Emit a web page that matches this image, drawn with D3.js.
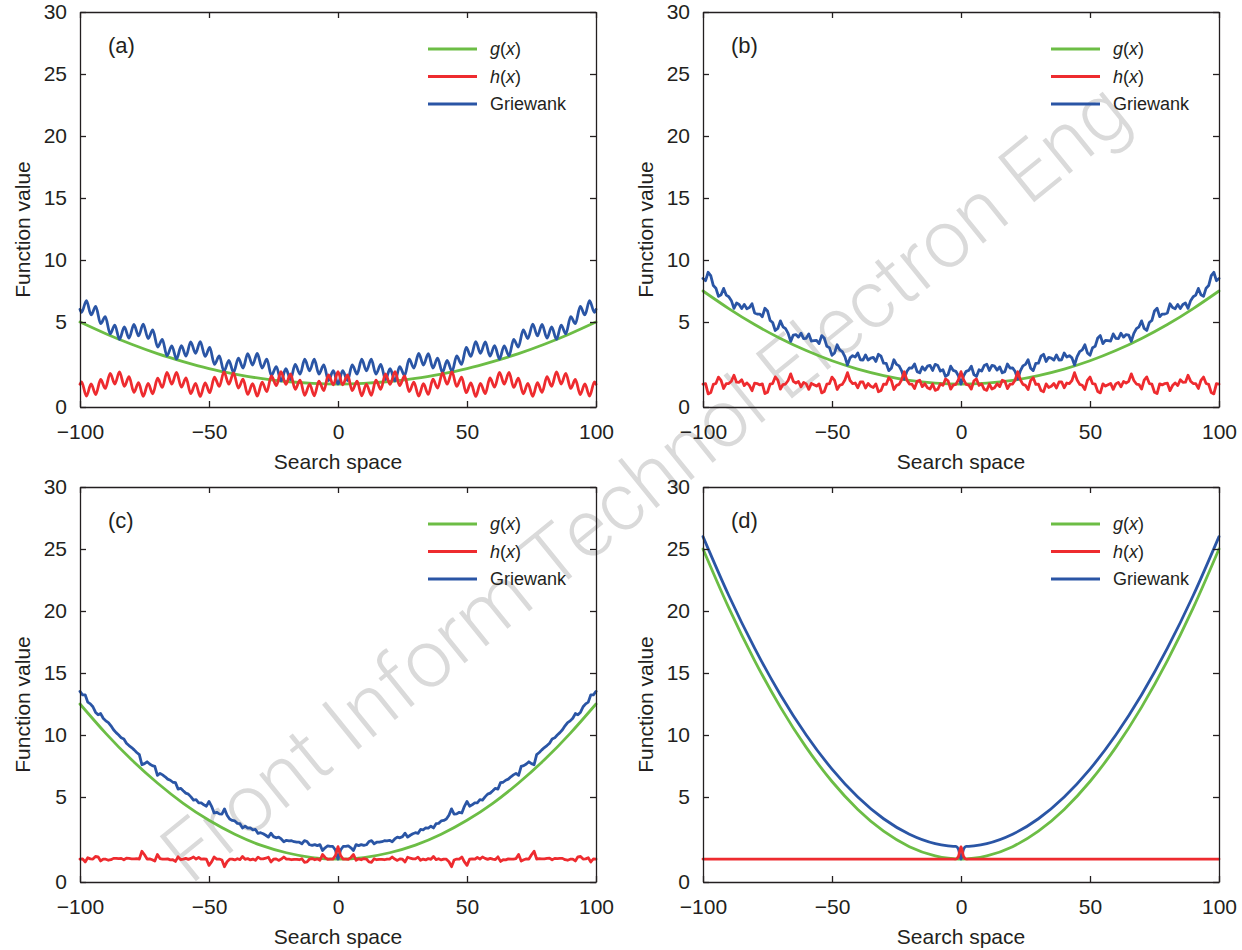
<!DOCTYPE html>
<html>
<head>
<meta charset="utf-8">
<script src="https://cdn.jsdelivr.net/npm/d3@7"></script>
<style>
  body { margin: 0; background: #fff; }
  svg { display: block; }
</style>
</head>
<body>
<svg width="1242" height="950"></svg>
<script>
// sample positions
const gridX = d3.range(-100, 101);       // panels (b) and (c), one per unit
const gridX10 = d3.range(-100, 101, 10); // g(x) in (a), (b), (c)
// panel (a): turning points of the fast wiggle
const aX = [-100, -99.4, -97.5, -95.7, -93.9, -92.0, -90.2, -88.3, -86.5, -84.7, -82.8, -81.0, -79.1, -77.3,
  -75.5, -73.6, -71.8, -69.9, -68.1, -66.3, -64.4, -62.6, -60.7, -58.9, -57.1, -55.2, -53.4, -51.5, -49.7,
  -47.9, -46.0, -44.2, -42.3, -40.5, -38.6, -36.8, -35.0, -33.1, -31.3, -29.4, -27.6, -25.8, -23.9, -22.1,
  -20.2, -18.4, -16.6, -14.7, -12.9, -11.0, -9.2, -7.4, -5.5, -3.7, -1.8, 0, 1.8, 3.7, 5.5, 7.4, 9.2, 11.0,
  12.9, 14.7, 16.6, 18.4, 20.2, 22.1, 23.9, 25.8, 27.6, 29.4, 31.3, 33.1, 35.0, 36.8, 38.6, 40.5, 42.3, 44.2,
  46.0, 47.9, 49.7, 51.5, 53.4, 55.2, 57.1, 58.9, 60.7, 62.6, 64.4, 66.3, 68.1, 69.9, 71.8, 73.6, 75.5, 77.3,
  79.1, 81.0, 82.8, 84.7, 86.5, 88.3, 90.2, 92.0, 93.9, 95.7, 97.5, 99.4, 100];
// panel (d)
const dX = [-100, -90, -80, -70, -60, -50, -40, -30, -20, -10, -5, -3, -2, -1, 0,
  1, 2, 3, 5, 10, 20, 30, 40, 50, 60, 70, 80, 90, 100];

// (a)
const aG = [5.00, 4.31, 3.69, 3.14, 2.67, 2.26, 1.94, 1.68, 1.50, 1.39, 1.35, 1.39, 1.50, 1.68, 1.94, 2.26, 2.67, 3.14, 3.69, 4.31, 5.00];
const aH = [1.34, 1.48, 0.64, 1.36, 0.73, 1.62, 1.09, 1.98, 1.35, 2.06, 1.22, 1.78, 0.86, 1.43, 0.63, 1.39, 0.78,
  1.69, 1.15, 2.03, 1.35, 2.04, 1.17, 1.71, 0.79, 1.39, 0.62, 1.42, 0.84, 1.76, 1.21, 2.06, 1.35, 2.00, 1.11,
  1.64, 0.74, 1.37, 0.64, 1.46, 0.90, 1.83, 1.26, 2.08, 1.33, 1.95, 1.04, 1.58, 0.69, 1.35, 0.66, 1.52, 0.97,
  1.89, 1.30, 2.08, 1.30, 1.89, 0.97, 1.52, 0.66, 1.35, 0.69, 1.58, 1.04, 1.95, 1.33, 2.08, 1.26, 1.83, 0.90,
  1.46, 0.64, 1.37, 0.74, 1.64, 1.11, 2.00, 1.35, 2.06, 1.21, 1.76, 0.84, 1.42, 0.62, 1.39, 0.79, 1.71, 1.17,
  2.04, 1.35, 2.03, 1.15, 1.69, 0.78, 1.39, 0.63, 1.43, 0.86, 1.78, 1.22, 2.06, 1.35, 1.98, 1.09, 1.62, 0.73,
  1.36, 0.64, 1.48, 1.34];
const aF = [6.02, 5.77, 6.73, 5.57, 6.26, 4.90, 5.43, 4.30, 4.82, 3.98, 4.71, 4.05, 4.86, 4.18, 4.88, 4.03, 4.53,
  3.53, 3.98, 3.01, 3.60, 2.82, 3.61, 2.99, 3.83, 3.16, 3.85, 2.98, 3.50, 2.51, 3.00, 2.09, 2.74, 2.03, 2.87,
  2.29, 3.14, 2.47, 3.15, 2.29, 2.81, 1.85, 2.38, 1.53, 2.25, 1.61, 2.50, 1.93, 2.81, 2.13, 2.81, 1.94, 2.48,
  1.55, 2.14, 1.35, 2.14, 1.55, 2.48, 1.94, 2.81, 2.13, 2.81, 1.93, 2.50, 1.61, 2.25, 1.53, 2.38, 1.85, 2.81,
  2.29, 3.15, 2.47, 3.14, 2.29, 2.87, 2.03, 2.74, 2.09, 3.00, 2.51, 3.50, 2.98, 3.85, 3.16, 3.83, 2.99, 3.61,
  2.82, 3.60, 3.01, 3.98, 3.53, 4.53, 4.03, 4.88, 4.18, 4.86, 4.05, 4.71, 3.98, 4.82, 4.30, 5.43, 4.90, 6.26,
  5.57, 6.73, 5.77, 6.02];

// (b)
const bG = [7.50, 6.08, 4.85, 4.03, 3.32, 2.72, 2.23, 1.85, 1.57, 1.41, 1.35, 1.41, 1.57, 1.85, 2.23, 2.72, 3.32, 4.03, 4.85, 6.08, 7.50];
const bH = [1.35,
  1.37, 0.77, 0.85, 1.33, 1.38, 1.76, 1.57, 1.09, 1.38, 1.38,
  1.52, 1.87, 1.46, 1.45, 1.60, 1.26, 1.42, 1.26, 0.96, 1.40,
  1.38, 1.30, 1.36, 0.79, 0.87, 1.34, 1.38, 1.77, 1.58, 1.05,
  1.32, 1.35, 1.56, 1.95, 1.51, 1.41, 1.50, 1.19, 1.45, 1.36,
  1.04, 1.39, 1.31, 1.23, 1.36, 0.83, 0.91, 1.34, 1.37, 1.76,
  1.57, 1.03, 1.28, 1.33, 1.59, 2.02, 1.56, 1.38, 1.41, 1.13,
  1.48, 1.47, 1.12, 1.38, 1.22, 1.15, 1.36, 0.90, 0.97, 1.35,
  1.33, 1.72, 1.56, 1.03, 1.27, 1.33, 1.60, 2.07, 1.59, 1.35,
  1.34, 1.08, 1.51, 1.57, 1.20, 1.37, 1.13, 1.06, 1.35, 0.98,
  1.04, 1.36, 1.27, 1.65, 1.54, 1.05, 1.29, 1.33, 1.60,
  2.08,
  1.60, 1.33, 1.29, 1.05, 1.54, 1.65, 1.27, 1.36, 1.04,
  0.98, 1.35, 1.06, 1.13, 1.37, 1.20, 1.57, 1.51, 1.08, 1.34,
  1.35, 1.59, 2.07, 1.60, 1.33, 1.27, 1.03, 1.56, 1.72, 1.33,
  1.35, 0.97, 0.90, 1.36, 1.15, 1.22, 1.38, 1.12, 1.47, 1.48,
  1.13, 1.41, 1.38, 1.56, 2.02, 1.59, 1.33, 1.28, 1.03, 1.57,
  1.76, 1.37, 1.34, 0.91, 0.83, 1.36, 1.23, 1.31, 1.39, 1.04,
  1.36, 1.45, 1.19, 1.50, 1.41, 1.51, 1.95, 1.56, 1.35, 1.32,
  1.05, 1.58, 1.77, 1.38, 1.34, 0.87, 0.79, 1.36, 1.30, 1.38,
  1.40, 0.96, 1.26, 1.42, 1.26, 1.60, 1.45, 1.46, 1.87, 1.52,
  1.38, 1.38, 1.09, 1.57, 1.76, 1.38, 1.33, 0.85, 0.77, 1.37,
  1.35];
const bF = [8.51,
  8.33, 9.01, 8.74, 7.94, 7.73, 7.07, 7.19, 7.71, 7.17, 7.04,
  6.72, 6.10, 6.53, 6.41, 6.08, 6.42, 6.07, 6.17, 6.47, 5.73,
  5.64, 5.64, 5.43, 6.11, 5.89, 5.13, 4.97, 4.50, 4.62, 5.09,
  4.72, 4.61, 4.33, 3.86, 4.23, 4.26, 4.11, 4.34, 4.02, 4.04,
  4.30, 3.88, 3.90, 3.92, 3.73, 4.20, 4.06, 3.57, 3.49, 3.04,
  3.18, 3.66, 3.36, 3.26, 2.96, 2.47, 2.89, 3.02, 2.94, 3.18,
  2.78, 2.76, 3.06, 2.76, 2.88, 2.92, 2.68, 3.10, 2.99, 2.58,
  2.57, 2.14, 2.28, 2.78, 2.51, 2.42, 2.12, 1.63, 2.09, 2.30,
  2.29, 2.53, 2.08, 2.01, 2.36, 2.17, 2.40, 2.45, 2.15, 2.51,
  2.44, 2.11, 2.19, 1.80, 1.91, 2.40, 2.15, 2.10, 1.83,
  1.35,
  1.83, 2.10, 2.15, 2.40, 1.91, 1.80, 2.19, 2.11, 2.44,
  2.51, 2.15, 2.45, 2.40, 2.17, 2.36, 2.01, 2.08, 2.53, 2.29,
  2.30, 2.09, 1.63, 2.12, 2.42, 2.51, 2.78, 2.28, 2.14, 2.57,
  2.58, 2.99, 3.10, 2.68, 2.92, 2.88, 2.76, 3.06, 2.76, 2.78,
  3.18, 2.94, 3.02, 2.89, 2.47, 2.96, 3.26, 3.36, 3.66, 3.18,
  3.04, 3.49, 3.57, 4.06, 4.20, 3.73, 3.92, 3.90, 3.88, 4.30,
  4.04, 4.02, 4.34, 4.11, 4.26, 4.23, 3.86, 4.33, 4.61, 4.72,
  5.09, 4.62, 4.50, 4.97, 5.13, 5.89, 6.11, 5.43, 5.64, 5.64,
  5.73, 6.47, 6.17, 6.07, 6.42, 6.08, 6.41, 6.53, 6.10, 6.72,
  7.04, 7.17, 7.71, 7.19, 7.07, 7.73, 7.94, 8.74, 9.01, 8.33,
  8.51];

// (c)
const cG = [12.50, 10.13, 8.00, 6.13, 4.63, 3.63, 2.81, 2.17, 1.72, 1.44, 1.35, 1.44, 1.72, 2.17, 2.81, 3.63, 4.63, 6.13, 8.00, 10.13, 12.50];
const cH = [1.35,
  1.36, 1.18, 1.43, 1.36, 1.35, 1.50, 1.48, 1.24, 1.35, 1.34,
  1.28, 1.31, 1.39, 1.39, 1.37, 1.39, 1.31, 1.40, 1.39, 1.36,
  1.36, 1.37, 1.35, 1.81, 1.60, 1.35, 1.36, 1.31, 1.23, 1.62,
  1.38, 1.35, 1.34, 1.36, 1.30, 1.31, 1.21, 1.48, 1.32, 1.35,
  1.39, 1.33, 1.39, 1.47, 1.35, 1.44, 1.34, 1.36, 1.34, 0.98,
  1.18, 1.47, 1.35, 1.35, 1.29, 0.90, 1.19, 1.34, 1.35, 1.30,
  1.37, 1.32, 1.50, 1.33, 1.38, 1.30, 1.35, 1.28, 1.46, 1.36,
  1.36, 1.40, 1.46, 1.18, 1.34, 1.36, 1.27, 1.35, 1.47, 1.35,
  1.35, 1.31, 1.33, 1.33, 1.31, 1.37, 1.16, 1.18, 1.35, 1.38,
  1.31, 1.36, 1.28, 1.62, 1.44, 1.33, 1.35, 1.35, 1.55,
  2.08,
  1.55, 1.35, 1.35, 1.33, 1.44, 1.62, 1.28, 1.36, 1.31,
  1.38, 1.35, 1.18, 1.16, 1.37, 1.31, 1.33, 1.33, 1.31, 1.35,
  1.35, 1.47, 1.35, 1.27, 1.36, 1.34, 1.18, 1.46, 1.40, 1.36,
  1.36, 1.46, 1.28, 1.35, 1.30, 1.38, 1.33, 1.50, 1.32, 1.37,
  1.30, 1.35, 1.34, 1.19, 0.90, 1.29, 1.35, 1.35, 1.47, 1.18,
  0.98, 1.34, 1.36, 1.34, 1.44, 1.35, 1.47, 1.39, 1.33, 1.39,
  1.35, 1.32, 1.48, 1.21, 1.31, 1.30, 1.36, 1.34, 1.35, 1.38,
  1.62, 1.23, 1.31, 1.36, 1.35, 1.60, 1.81, 1.35, 1.37, 1.36,
  1.36, 1.39, 1.40, 1.31, 1.39, 1.37, 1.39, 1.39, 1.31, 1.28,
  1.34, 1.35, 1.24, 1.48, 1.50, 1.35, 1.36, 1.43, 1.18, 1.36,
  1.35];
const cF = [13.51,
  13.24, 13.24, 12.65, 12.51, 12.28, 11.84, 11.63, 11.73, 11.35, 11.14,
  11.00, 10.74, 10.42, 10.19, 10.00, 9.77, 9.67, 9.34, 9.15, 8.99,
  8.80, 8.59, 8.42, 7.60, 7.69, 7.84, 7.66, 7.53, 7.47, 6.75,
  6.91, 6.78, 6.63, 6.44, 6.35, 6.19, 6.16, 5.64, 5.70, 5.50,
  5.31, 5.23, 5.01, 4.82, 4.84, 4.66, 4.65, 4.54, 4.46, 4.74,
  4.45, 4.06, 4.10, 4.01, 3.99, 4.30, 3.93, 3.70, 3.62, 3.59,
  3.45, 3.43, 3.18, 3.28, 3.17, 3.18, 3.07, 3.09, 2.86, 2.90,
  2.84, 2.75, 2.64, 2.87, 2.67, 2.60, 2.64, 2.53, 2.37, 2.45,
  2.42, 2.43, 2.37, 2.34, 2.34, 2.25, 2.43, 2.38, 2.19, 2.15,
  2.20, 2.14, 2.20, 1.85, 2.01, 2.12, 2.09, 2.09, 1.88,
  1.35,
  1.88, 2.09, 2.09, 2.12, 2.01, 1.85, 2.20, 2.14, 2.20,
  2.15, 2.19, 2.38, 2.43, 2.25, 2.34, 2.34, 2.37, 2.43, 2.42,
  2.45, 2.37, 2.53, 2.64, 2.60, 2.67, 2.87, 2.64, 2.75, 2.84,
  2.90, 2.86, 3.09, 3.07, 3.18, 3.17, 3.28, 3.18, 3.43, 3.45,
  3.59, 3.62, 3.70, 3.93, 4.30, 3.99, 4.01, 4.10, 4.06, 4.45,
  4.74, 4.46, 4.54, 4.65, 4.66, 4.84, 4.82, 5.01, 5.23, 5.31,
  5.50, 5.70, 5.64, 6.16, 6.19, 6.35, 6.44, 6.63, 6.78, 6.91,
  6.75, 7.47, 7.53, 7.66, 7.84, 7.69, 7.60, 8.42, 8.59, 8.80,
  8.99, 9.15, 9.34, 9.67, 9.77, 10.00, 10.19, 10.42, 10.74, 11.00,
  11.14, 11.35, 11.73, 11.63, 11.84, 12.28, 12.51, 12.65, 13.24, 13.24,
  13.51];

// (d)
const dG = [25.00, 20.25, 16.00, 12.25, 9.00, 6.25, 4.27, 2.99, 2.08, 1.54, 1.40, 1.37, 1.36, 1.35, 1.35,
  1.35, 1.36, 1.37, 1.40, 1.54, 2.08, 2.99, 4.27, 6.25, 9.00, 12.25, 16.00, 20.25, 25.00];
const dH = [1.35, 1.35, 1.35, 1.35, 1.35, 1.35, 1.35, 1.35, 1.35, 1.35, 1.35, 1.35, 1.35, 1.50, 2.08,
  1.50, 1.35, 1.35, 1.35, 1.35, 1.35, 1.35, 1.35, 1.35, 1.35, 1.35, 1.35, 1.35, 1.35];
const dF = [26.00, 21.25, 17.00, 13.25, 10.00, 7.25, 5.00, 3.72, 2.81, 2.26, 2.13, 2.10, 2.09, 1.94, 1.35,
  1.94, 2.09, 2.10, 2.13, 2.26, 2.81, 3.72, 5.00, 7.25, 10.00, 13.25, 17.00, 21.25, 26.00];

const xTicks = [-100, -50, 0, 50, 100];
const yTicks = [0, 5, 10, 15, 20, 25, 30];
const panelLabels = ["(a)", "(b)", "(c)", "(d)"];
const legendNames = ["g(x)", "h(x)", "Griewank"];
const watermark = "Front Inform Technol Electron Eng";

const colors = ["#6cbd45", "#ee2b2f", "#2a55a5"]; // g, h, Griewank
const ink = "#231f20";
const font = "'Liberation Sans', Arial, Helvetica, sans-serif";
const W = 516, H = 395;

let svg = d3.select("svg");

// watermark sits behind the plots
svg
  .append("text")
  .attr("transform", "translate(645,482) rotate(-39)")
  .attr("text-anchor", "middle")
  .attr("dominant-baseline", "central")
  .attr("textLength", 1215)
  .attr("lengthAdjust", "spacingAndGlyphs")
  .style("font-family", "Roboto, 'Open Sans', 'Liberation Sans', sans-serif")
  .style("font-weight", 300)
  .style("font-size", "81px")
  .style("fill", "#dadada")
  .text(watermark);

let panels = [
  { left: 80, top: 12, xs: aX, g: aG, h: aH, f: aF, gx: gridX10, curve: d3.curveMonotoneX, curveG: d3.curveNatural },
  { left: 703, top: 12, xs: gridX, g: bG, h: bH, f: bF, gx: gridX10, curve: d3.curveLinear, curveG: d3.curveNatural },
  { left: 80, top: 487, xs: gridX, g: cG, h: cH, f: cF, gx: gridX10, curve: d3.curveLinear, curveG: d3.curveNatural },
  { left: 703, top: 487, xs: dX, g: dG, h: dH, f: dF, gx: dX, curve: d3.curveMonotoneX, curveG: d3.curveMonotoneX },
];

panels.forEach((p, i) => drawPanel(p, panelLabels[i]));

function drawPanel(p, label) {
  let g = svg.append("g").attr("transform", `translate(${p.left},${p.top})`);

  let x = d3.scaleLinear().domain([-100, 100]).range([0, W]);
  // the printed axis gives 0-5 more room than the other steps
  let y = d3.scaleLinear().domain([0, 5, 30]).range([H, H - 85, 0]);

  // lines: g(x), Griewank, h(x) on top
  let order = [
    [p.gx, p.g, colors[0], p.curveG],
    [p.xs, p.f, colors[2], p.curve],
    [p.xs, p.h, colors[1], p.curve],
  ];
  order.forEach(([xs, ys, color, curve]) => {
    let line = d3
      .line()
      .curve(curve)
      .x(function (d) {
        return x(d[0]);
      })
      .y(function (d) {
        return y(d[1]);
      });
    g.append("path")
      .datum(d3.zip(xs, ys))
      .attr("d", line)
      .attr("fill", "none")
      .attr("stroke", color)
      .attr("stroke-width", 2.8)
      .attr("stroke-linejoin", "round")
      .attr("stroke-linecap", "round");
  });

  // frame with inward ticks
  let axes = [
    [d3.axisBottom(x).tickValues(xTicks).tickPadding(17), `translate(0,${H})`],
    [d3.axisTop(x).tickValues(xTicks).tickFormat(""), "translate(0,0)"],
    [d3.axisLeft(y).tickValues(yTicks).tickPadding(13), "translate(0,0)"],
    [d3.axisRight(y).tickValues(yTicks).tickFormat(""), `translate(${W},0)`],
  ];
  axes.forEach(([axis, tr]) => {
    let a = g
      .append("g")
      .attr("transform", tr)
      .call(axis.tickSizeInner(-6).tickSizeOuter(0))
      .attr("font-size", 21)
      .attr("font-family", font)
      .attr("color", ink);
    a.selectAll("path, line").attr("stroke-width", 1.3);
  });

  g.append("text")
    .attr("x", W / 2)
    .attr("y", H + 62)
    .attr("text-anchor", "middle")
    .attr("font-family", font)
    .attr("font-size", 21)
    .attr("fill", ink)
    .text("Search space");

  g.append("text")
    .attr("transform", `translate(-50,${H / 2 + 20}) rotate(-90)`)
    .attr("text-anchor", "middle")
    .attr("font-family", font)
    .attr("font-size", 21)
    .attr("fill", ink)
    .text("Function value");

  g.append("text")
    .attr("x", 28)
    .attr("y", 41)
    .attr("font-family", font)
    .attr("font-size", 22)
    .attr("fill", ink)
    .text(label);

  // legend
  legendNames.forEach((name, i) => {
    let ly = 37 + i * 27.5;
    g.append("line")
      .attr("x1", 348)
      .attr("x2", 397)
      .attr("y1", ly)
      .attr("y2", ly)
      .attr("stroke", colors[i])
      .attr("stroke-width", 3);
    let t = g
      .append("text")
      .attr("x", 410)
      .attr("y", ly)
      .attr("dy", "0.35em")
      .attr("font-family", font)
      .attr("font-size", 18)
      .attr("fill", ink);
    let m = name.match(/^(\w)\((\w)\)$/);
    if (m) {
      t.append("tspan").attr("font-style", "italic").text(m[1]);
      t.append("tspan").text("(");
      t.append("tspan").attr("font-style", "italic").text(m[2]);
      t.append("tspan").text(")");
    } else {
      t.text(name);
    }
  });
}
</script>
</body>
</html>
